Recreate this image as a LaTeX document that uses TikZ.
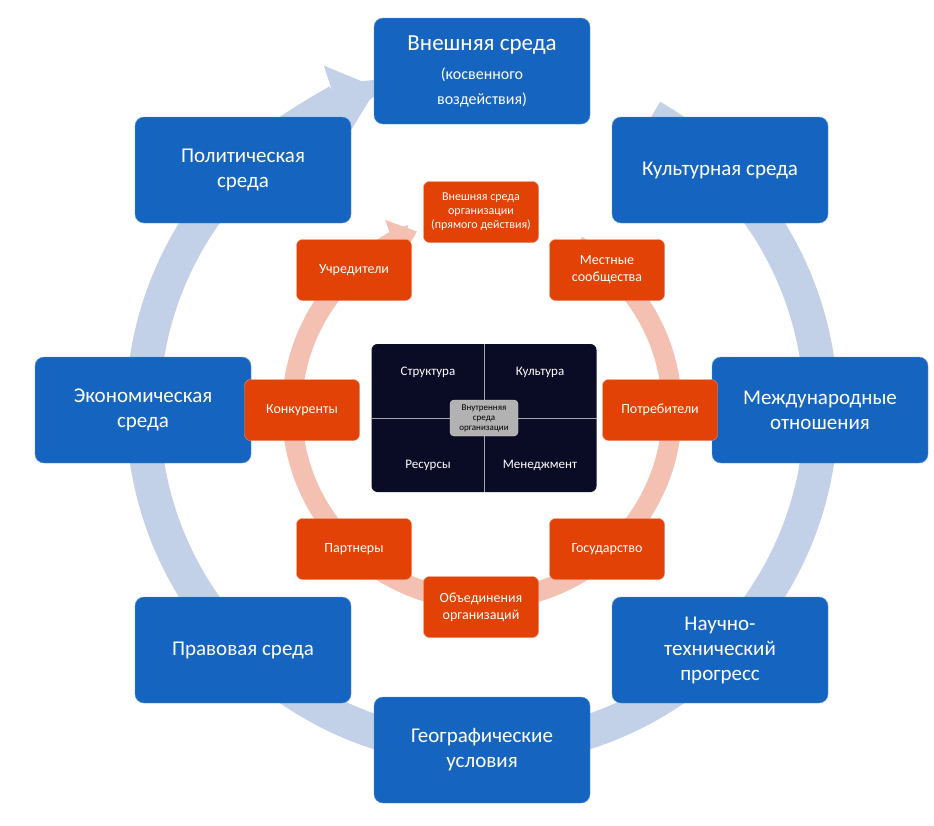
\documentclass[tikz,border=0pt]{standalone}
\usepackage{fontspec}
\setmainfont{Carlito}
\usetikzlibrary{arrows.meta}
\definecolor{bbox}{RGB}{21,101,192}
\definecolor{obox}{RGB}{226,66,6}
\definecolor{bring}{RGB}{194,208,232}
\definecolor{oring}{RGB}{244,192,178}
\definecolor{navy}{RGB}{10,12,38}
\tikzset{
 bluebox/.style={fill=bbox,draw=bbox!70!white,rounded corners=9pt,minimum width=216pt,minimum height=106pt,text=white,font=\fontsize{21}{25}\selectfont,align=center},
 orbox/.style={fill=obox,draw=obox!60!white,rounded corners=6pt,minimum width=115pt,minimum height=61pt,text=white,font=\fontsize{14}{17}\selectfont,align=center},
 qlab/.style={text=white,font=\fontsize{13}{15}\selectfont}
}
\begin{document}
\begin{tikzpicture}[x=1pt,y=-1pt]
\useasboundingbox (0,0) rectangle (934,825);
% outer ring
\draw[bring,line width=34pt] (482,410) ++(-60:339) arc[start angle=-60,end angle=236,radius=339];
\draw[bring,line width=34pt,-{Triangle[width=72pt,length=44pt]}] (482,410) ++(235:339) arc[start angle=235,end angle=252,radius=339];
% inner ring
\draw[oring,line width=20pt] (482,410) ++(-60:190) arc[start angle=-60,end angle=236,radius=190];
\draw[oring,line width=20pt,-{Triangle[width=42pt,length=26pt]}] (482,410) ++(235:190) arc[start angle=235,end angle=250,radius=190];
% blue boxes
\node[bluebox] (top) at (482,71) {\fontsize{23}{26}\selectfont Внешняя среда\\[4pt]\fontsize{16}{20}\selectfont(косвенного\\\fontsize{16}{20}\selectfont воздействия)};
\node[bluebox] (pol) at (243,170) {Политическая\\среда};
\node[bluebox] (kul) at (720,170) {Культурная среда};
\node[bluebox] (eco) at (143,410) {Экономическая\\среда};
\node[bluebox] (mez) at (820,410) {Международные\\отношения};
\node[bluebox] (pra) at (243,650) {Правовая среда};
\node[bluebox] (nau) at (720,650) {Научно-\\технический\\прогресс};
\node[bluebox] (geo) at (482,750) {Географические\\условия};
% orange boxes
\node[orbox,font=\fontsize{12}{14}\selectfont] (vso) at (481,212) {Внешняя среда\\организации\\(прямого действия)};
\node[orbox] (uch) at (354,270) {Учредители};
\node[orbox] (mes) at (607,270) {Местные\\сообщества};
\node[orbox] (kon) at (302,410) {Конкуренты};
\node[orbox] (pot) at (660,410) {Потребители};
\node[orbox] (par) at (354,549) {Партнеры};
\node[orbox] (gos) at (607,549) {Государство};
\node[orbox] (obj) at (481,607) {Объединения\\организаций};
% center
\node[fill=navy,rounded corners=6pt,minimum width=225pt,minimum height=148pt] (ctr) at (484,418) {};
\draw[gray!70,line width=1pt] (ctr.north) -- (ctr.south);
\draw[gray!70,line width=1pt] (ctr.west) -- (ctr.east);
\node[qlab] (q1) at (428,372) {Структура};
\node[qlab] (q2) at (540,372) {Культура};
\node[qlab] (q3) at (428,465) {Ресурсы};
\node[qlab] (q4) at (540,465) {Менеджмент};
\node[fill=gray!60,draw=gray!30,rounded corners=4pt,minimum width=68pt,minimum height=36pt,align=center,font=\fontsize{9}{10}\selectfont,text=black] (inn) at (484,418) {Внутренняя\\среда\\организации};
\end{tikzpicture}
\end{document}
